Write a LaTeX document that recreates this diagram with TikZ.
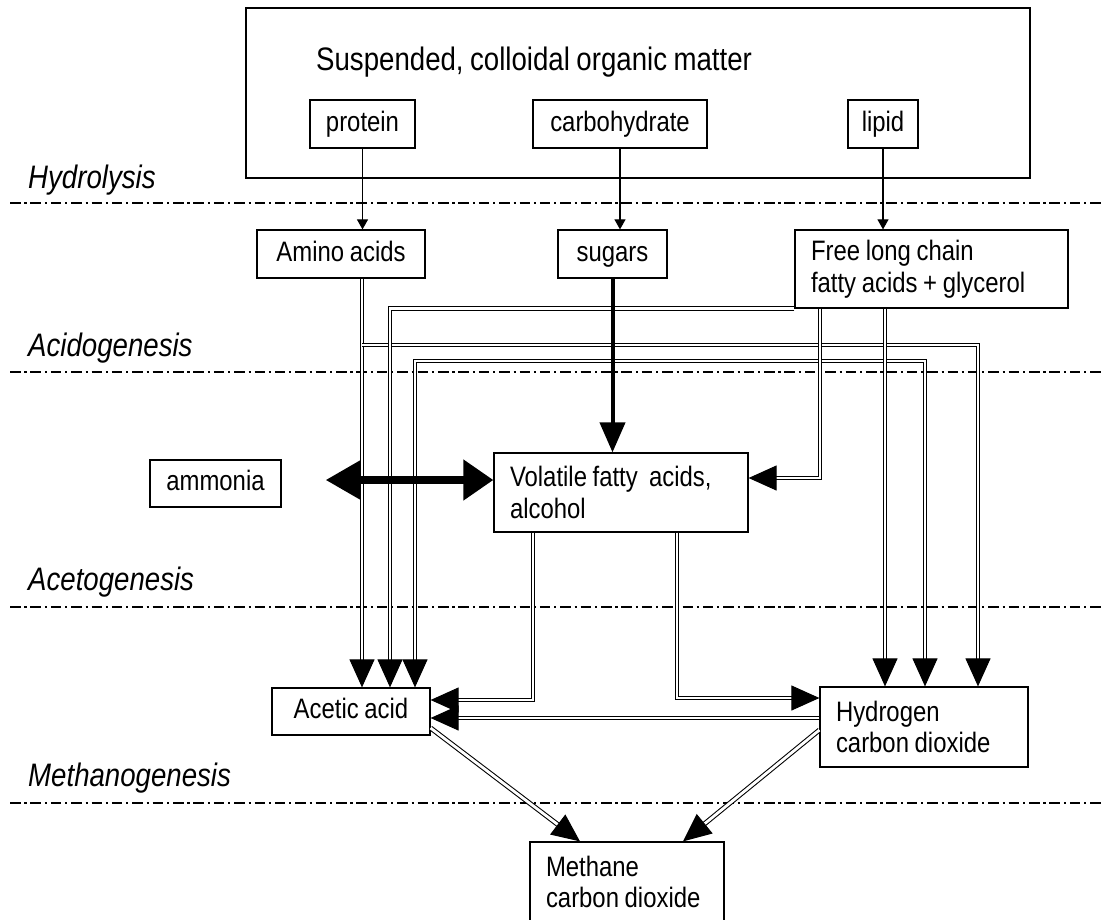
\documentclass[tikz,border=0pt]{standalone}
\usepackage{fontspec}
\setmainfont{Liberation Sans}[FakeStretch=0.85, WordSpace=0.85]
\usepackage{tikz}
\usetikzlibrary{arrows.meta, positioning, calc}

\begin{document}
\begin{tikzpicture}[
		x=0.02cm, y=-0.02cm,
		box/.style={draw, line width=0.7pt, inner sep=0pt, minimum height=0.96cm, font=\fontsize{16}{18}\selectfont},
		sbox/.style={box, text height=11.5pt, text depth=3.5pt},
		tbox/.style={box, align=flush left, inner xsep=0.32cm},
		phase/.style={anchor=west, font=\fontsize{18.5}{20}\selectfont\itshape},
		sep/.style={line width=0.6pt, dash pattern=on 6pt off 2.2pt on 1.2pt off 2.2pt},
		thin/.style={-{Triangle[length=0.2cm, width=0.22cm]}, line width=0.6pt},
		dbl/.style={-{Triangle[length=0.56cm, width=0.5cm]}, double, double distance=1.6pt, line width=0.6pt},
		thk/.style={-{Triangle[length=0.6cm, width=0.5cm]}, line width=0.08cm},
		]
		\useasboundingbox (0,0) rectangle (1103,920);
		
		% Phase separators
		\foreach \yy in {203,372,607,803}
		\draw[sep] (10,\yy) -- (1103,\yy);
		\node[phase] (hyd) at (22,180) {Hydrolysis};
		\node[phase] (acido) at (22,348) {Acidogenesis};
		\node[phase] (aceto) at (22,582) {Acetogenesis};
		\node[phase] (metha) at (22,778) {Methanogenesis};
		
		% Organic matter
		\node[box, minimum width=15.68cm, minimum height=3.4cm] (organic) at (638,93) {};
		\node[anchor=west, font=\fontsize{18.5}{20}\selectfont] (organictitle) at (310,62) {Suspended, colloidal organic matter};
		\node[sbox, minimum width=2.1cm] (protein) at (362.5,124) {protein};
		\node[sbox, minimum width=3.48cm] (carb) at (620,124) {carbohydrate};
		\node[sbox, minimum width=1.4cm] (lipid) at (883,124) {lipid};
		
		% Products
		\node[sbox, minimum width=3.36cm] (amino) at (341,254) {Amino acids};
		\node[sbox, minimum width=2.18cm] (sugars) at (612.5,254) {sugars};
		\node[tbox, text width=4.82cm, minimum height=1.56cm] (flcfa) at (931.5,269) {Free long chain\\fatty acids + glycerol};
		\node[sbox, minimum width=2.62cm, minimum height=0.94cm] (ammonia) at (215.5,483.5) {ammonia};
		\node[tbox, text width=4.44cm, minimum height=1.58cm] (vfa) at (621,492.5) {Volatile fatty\ \ acids,\\alcohol};
		\node[sbox, minimum width=3.16cm, minimum height=0.94cm] (acetic) at (351,711.5) {Acetic acid};
		\node[tbox, text width=3.52cm, minimum height=1.6cm] (hydrogen) at (924,727) {Hydrogen\\carbon dioxide};
		\node[tbox, text width=3.24cm, minimum height=1.6cm] (methane) at (627,882) {Methane\\carbon dioxide};
		
		% Hydrolysis
		\draw[thin] (protein.south) -- (amino.north -| protein.south);
		\draw[thin] (carb.south) -- (sugars.north -| carb.south);
		\draw[thin] (lipid.south) -- (flcfa.north -| lipid.south);
		
		% Acidogenesis
		\draw[dbl] (amino.south -| 362,0) -- (acetic.north -| 362,0);
		\draw[dbl] (362,345) -| (hydrogen.north -| 978,0);
		\draw[dbl] (flcfa.south west) -| (acetic.north -| 390,0);
		\draw[dbl, {Triangle[length=0.56cm, width=0.5cm]}-{Triangle[length=0.56cm, width=0.5cm]}] (acetic.north -| 415,0) |- (925,361) -- (hydrogen.north -| 925,0);
		\draw[dbl] (flcfa.south -| 820,0) |- (vfa.east |- 0,478);
		\draw[dbl] (flcfa.south -| 885,0) -- (hydrogen.north -| 885,0);
		\draw[thk] (sugars.south) -- (vfa.north -| sugars.south);
		\draw[thk, line width=0.16cm, {Triangle[length=0.7cm, width=0.75cm]}-{Triangle[length=0.6cm, width=0.78cm]}, shorten <=0.88cm] (ammonia.east |- 0,480) -- (vfa.west |- 0,480);
		
		% Acetogenesis
		\draw[dbl] (vfa.south -| 533,0) |- (acetic.east |- 0,700);
		\draw[dbl] (vfa.south -| 677,0) |- (hydrogen.west |- 0,698);
		\draw[dbl] (hydrogen.west |- 0,718) -- (acetic.east |- 0,718);
		
		% Methanogenesis
		\draw[dbl] (acetic.east |- 0,728) -- (methane.north -| 580,0);
		\draw[dbl] (hydrogen.west |- 0,730) -- (methane.north -| 683,0);
	\end{tikzpicture}
\end{document}
